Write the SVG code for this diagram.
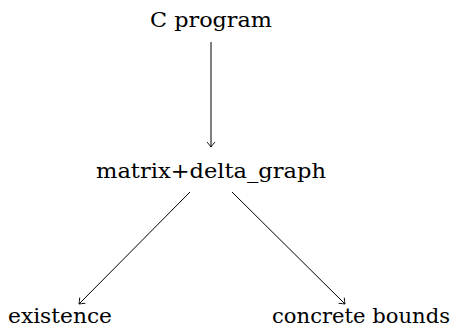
<svg xmlns="http://www.w3.org/2000/svg" width="456" height="333" viewBox="0 0 456 333">
<style>
text{font-family:"DejaVu Serif","Liberation Serif",serif;font-size:21px;fill:#000;text-anchor:middle}
.e{stroke:#000;stroke-width:1;fill:none}
</style>
<defs>
<marker id="a" viewBox="-6 -5 8 10" markerWidth="8" markerHeight="10" refX="0" refY="0" orient="auto" markerUnits="userSpaceOnUse">
<path d="M-5,-4 Q-1.5,-1 0,0 Q-1.5,1 -5,4" fill="none" stroke="#000" stroke-width="0.9"/>
</marker>
</defs>
<rect width="456" height="333" fill="#fff"/>
<g id="connectors">
<line class="e" x1="211" y1="42" x2="211" y2="147" marker-end="url(#a)"/>
<line class="e" x1="190" y1="192" x2="79" y2="304" marker-end="url(#a)"/>
<line class="e" x1="232" y1="192" x2="345" y2="304" marker-end="url(#a)"/>
</g>
<g id="c_program"><text x="211" y="27" textLength="122" lengthAdjust="spacingAndGlyphs">C program</text></g>
<g id="matrix"><text x="211" y="178" textLength="230" lengthAdjust="spacingAndGlyphs">matrix+delta_graph</text></g>
<g id="existence"><text x="60" y="323" textLength="104" lengthAdjust="spacingAndGlyphs">existence</text></g>
<g id="concrete"><text x="361" y="323" textLength="178" lengthAdjust="spacingAndGlyphs">concrete bounds</text></g>
</svg>
